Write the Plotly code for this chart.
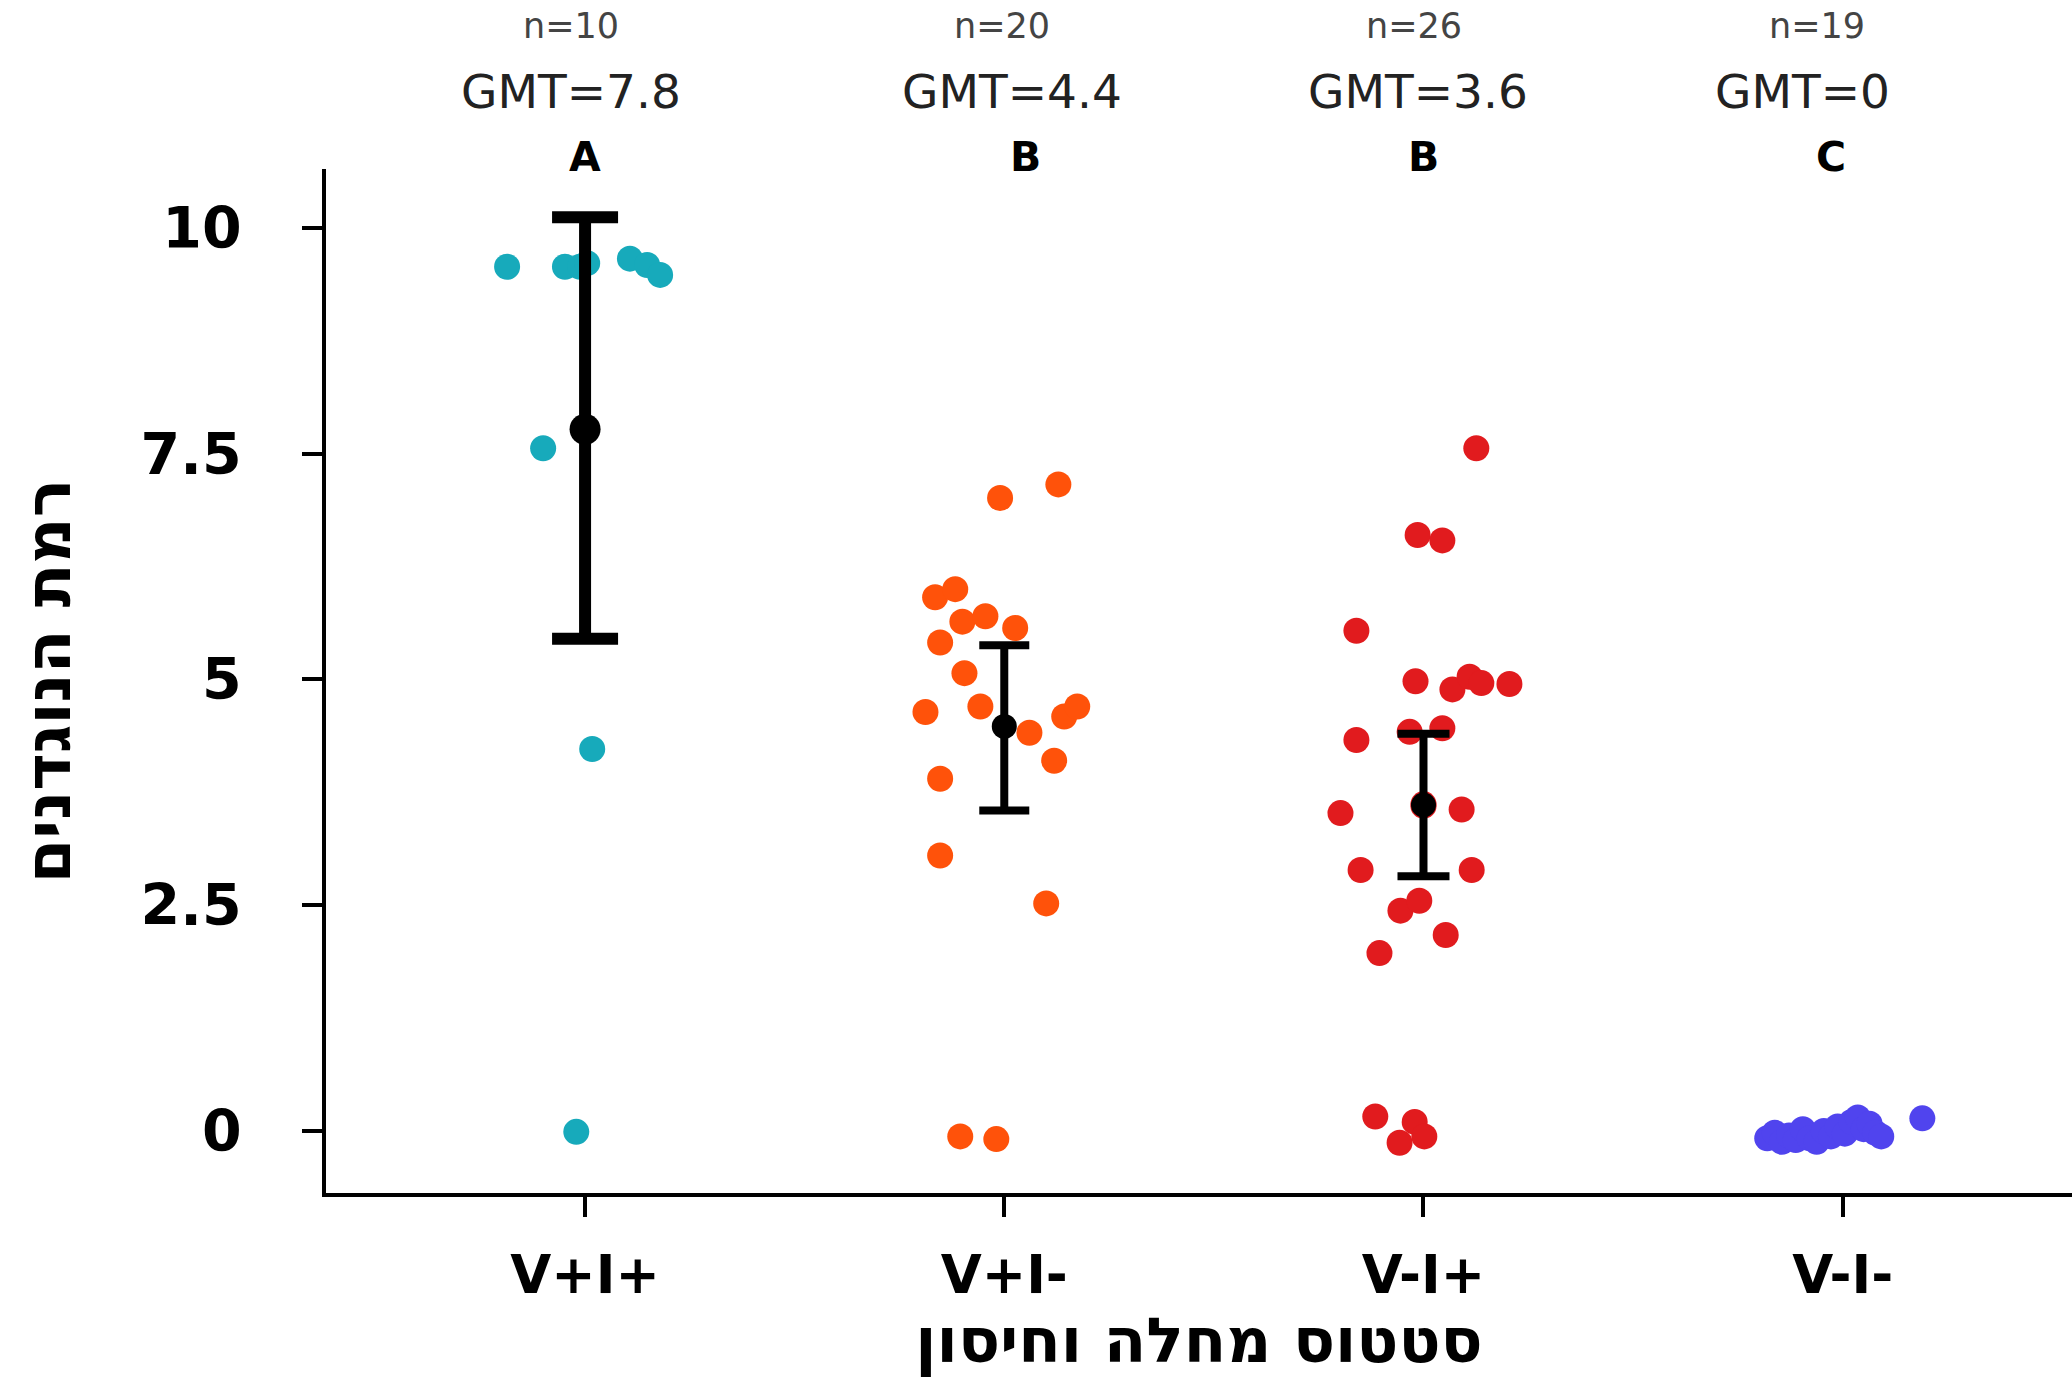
import plotly.graph_objects as go

# ---------------- data ----------------
categories = ["V+I+", "V+I-", "V-I+", "V-I-"]
n_labels = ["n=10", "n=20", "n=26", "n=19"]
gmt_labels = ["GMT=7.8", "GMT=4.4", "GMT=3.6", "GMT=0"]
sig_letters = ["A", "B", "B", "C"]

y_tickvals = [0, 2.5, 5, 7.5, 10]
y_ticktext = ["0", "2.5", "5", "7.5", "10"]

# horizontal jitter (category units) and antibody level of each subject
vpip_jitter = [-0.186, -0.048, -0.012, 0.005, 0.107, 0.148, 0.179, -0.10, 0.017, -0.021]
vpip_values = [9.57, 9.57, 9.57, 9.61, 9.66, 9.59, 9.48, 7.56, 4.23, -0.01]

vpim_jitter = [-0.010, 0.129, -0.165, -0.117, -0.100, -0.045, 0.026, -0.153, -0.095, -0.188,
               -0.057, 0.060, 0.143, 0.174, 0.119, -0.153, -0.153, 0.100, -0.105, -0.019]
vpim_values = [7.01, 7.16, 5.91, 6.00, 5.64, 5.70, 5.57, 5.41, 5.07, 4.64,
               4.70, 4.41, 4.59, 4.70, 4.10, 3.90, 3.05, 2.52, -0.06, -0.09]

vmip_jitter = [0.126, -0.014, 0.045, -0.160, -0.019, 0.069, 0.110, 0.138, 0.205, -0.033,
               0.045, -0.160, -0.198, 0.091, -0.150, 0.115, -0.055, -0.010, 0.053, -0.105,
               -0.115, -0.057, -0.021, 0.002, 0.0, 0.0]
vmip_values = [7.56, 6.60, 6.54, 5.54, 4.98, 4.89, 5.03, 4.96, 4.95, 4.42,
               4.46, 4.33, 3.52, 3.56, 2.89, 2.89, 2.44, 2.55, 2.17, 1.97,
               0.16, -0.13, 0.10, -0.06, 3.62, 3.60]

vmim_jitter = [-0.180, -0.162, -0.145, -0.128, -0.112, -0.095, -0.079, -0.062, -0.045, -0.028,
               -0.012, 0.005, 0.021, 0.036, 0.050, 0.064, 0.078, 0.092, 0.190]
vmim_values = [-0.08, -0.02, -0.12, -0.05, -0.10, 0.02, -0.08, -0.12, 0.00, -0.06,
               0.05, -0.03, 0.10, 0.15, 0.02, 0.08, -0.02, -0.06, 0.14]

group_jitter = [vpip_jitter, vpim_jitter, vmip_jitter, vmim_jitter]
group_values = [vpip_values, vpim_values, vmip_values, vmim_values]
group_colors = ["#17AABB", "#FF520A", "#E11B1E", "#5044EE"]

# mean +/- interval for the first three groups
mean_values = [7.77, 4.48, 3.61]
upper_values = [10.12, 5.38, 4.40]
lower_values = [5.45, 3.55, 2.82]

# ---------------- styling ----------------
bar_thickness = [12, 8, 8]
cap_halfwidth = [33, 25, 26]
mean_marker_size = [31, 25, 25]
n_shift = [-14, -2, -9, -26]
gmt_shift = [-14, 8, -5, -40]
letter_shift = [0, 21, 0, -12]
HEB_FONT = "DejaVu Sans"

fig = go.Figure()

for gi, (jit, vals, col) in enumerate(zip(group_jitter, group_values, group_colors)):
    fig.add_trace(go.Scatter(
        x=[gi + j for j in jit],
        y=vals,
        mode="markers",
        marker=dict(symbol="circle", size=26, color=col, line=dict(width=0)),
        showlegend=False,
        hoverinfo="y",
        cliponaxis=False,
    ))

for gi, (m, up, lo) in enumerate(zip(mean_values, upper_values, lower_values)):
    fig.add_trace(go.Scatter(
        x=[gi],
        y=[m],
        mode="markers",
        marker=dict(symbol="circle", size=mean_marker_size[gi], color="black",
                    line=dict(width=0)),
        error_y=dict(type="data", symmetric=False, array=[up - m], arrayminus=[m - lo],
                     color="black", thickness=bar_thickness[gi], width=cap_halfwidth[gi]),
        showlegend=False,
        hoverinfo="y",
    ))

# annotations above the plot
for gi in range(len(categories)):
    fig.add_annotation(x=gi, y=1.1396, xref="x", yref="paper", text=n_labels[gi],
                       showarrow=False, yanchor="middle", xshift=n_shift[gi],
                       font=dict(family="DejaVu Sans", size=35, color="#444444"))
    fig.add_annotation(x=gi, y=1.0752, xref="x", yref="paper", text=gmt_labels[gi],
                       showarrow=False, yanchor="middle", xshift=gmt_shift[gi],
                       font=dict(family="DejaVu Sans", size=47, color="#222222"))
    fig.add_annotation(x=gi, y=1.0117, xref="x", yref="paper", text="<b>%s</b>" % sig_letters[gi],
                       showarrow=False, yanchor="middle", xshift=letter_shift[gi],
                       font=dict(family="DejaVu Sans", size=41, color="black"))

fig.update_layout(
    width=2072, height=1377,
    margin=dict(l=326, r=0, t=169, b=184, pad=0),
    plot_bgcolor="white", paper_bgcolor="white",
    xaxis=dict(
        range=[-0.618, 3.547],
        tickvals=list(range(len(categories))),
        ticktext=["<b>%s</b>" % c for c in categories],
        tickfont=dict(family="DejaVu Sans", size=53, color="black"),
        showline=True, linecolor="black", linewidth=4,
        ticks="outside", ticklen=20, tickwidth=4, tickcolor="black",
        showgrid=False, zeroline=False,
        ticklabelstandoff=12,
        title=dict(text="<b>סטטוס מחלה וחיסון</b>", standoff=0,
                   font=dict(family=HEB_FONT, size=62, color="black", weight=900)),
        automargin=False,
    ),
    yaxis=dict(
        range=[-0.687, 10.653],
        tickvals=y_tickvals,
        ticktext=["<b>%s</b>" % t for t in y_ticktext],
        tickfont=dict(family="DejaVu Sans", size=57, color="black"),
        showline=True, linecolor="black", linewidth=4,
        ticks="outside", ticklen=20, tickwidth=4, tickcolor="black",
        showgrid=False, zeroline=False,
        ticklabelstandoff=49,
        title=dict(text="<b>רמת הנוגדנים</b>", standoff=50,
                   font=dict(family=HEB_FONT, size=64, color="black", weight=900)),
        automargin=False,
    ),
)

fig.write_html("out.html", config={"displayModeBar": False},
               post_script="document.body.style.margin='0';")
